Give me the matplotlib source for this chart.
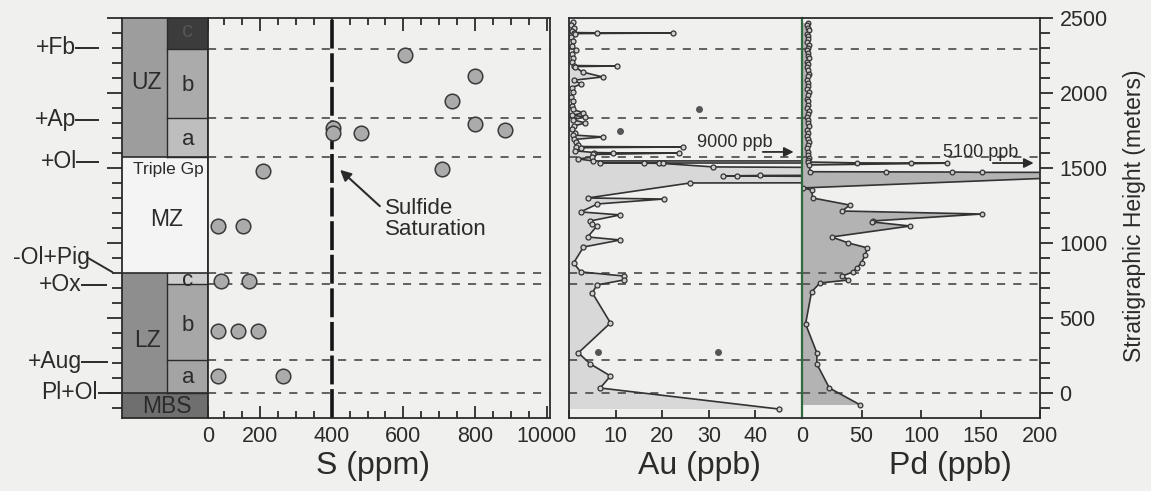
import matplotlib
matplotlib.use('Agg')
import matplotlib.pyplot as plt
import matplotlib.transforms as mtransforms
from matplotlib.ticker import MultipleLocator, FixedLocator, FixedFormatter, NullFormatter

plt.rcParams['font.family'] = ['Liberation Sans', 'DejaVu Sans']

# ---------------- data ----------------
height_limits = (-167, 2500)
boundary_heights = [2290, 1835, 1570, 800, 725, 220, 0]

zone_labels = ['UZ', 'MZ', 'LZ', 'MBS']
zone_bottoms = [1570, 800, 0, -167]
zone_tops = [2500, 1570, 800, 0]
subzone_labels = ['c', 'b', 'a', 'c', 'b', 'a']
subzone_bottoms = [2290, 1835, 1570, 725, 220, 0]
subzone_tops = [2500, 2290, 1835, 800, 725, 220]

marker_labels = ['+Fb', '+Ap', '+Ol', '-Ol+Pig', '+Ox', '+Aug', 'Pl+Ol']
marker_heights = [2300, 1820, 1540, 900, 720, 207, 0]

s_ppm = [604, 800, 735, 404, 404, 482, 800, 883, 209, 707, 84, 153, 92, 170, 84, 139, 195, 84, 265]
s_height = [2253, 2113, 1947, 1767, 1733, 1733, 1793, 1753, 1480, 1493, 1113, 1113, 747, 747, 413, 413, 413, 113, 113]
sulfide_saturation_ppm = 400
s_ticks = [0, 200, 400, 600, 800, 1000]

au_height = [2473, 2455, 2435, 2415, 2403, 2401, 2400, 2396, 2370, 2345, 2315, 2287, 2260,
             2235, 2205, 2183, 2180, 2176, 2140, 2107, 2085, 2060, 2035, 2005, 1975, 1945,
             1915, 1890, 1867, 1852, 1840, 1822, 1800, 1780, 1760, 1735, 1720, 1707, 1690,
             1670, 1652, 1643, 1640, 1635, 1615, 1603, 1601, 1600, 1590, 1573, 1560, 1547,
             1540, 1533, 1532, 1531, 1530, 1507, 1490, 1460, 1450, 1448, 1447, 1430, 1405,
             1400, 1300, 1293, 1260, 1207, 1187, 1147, 1127, 1113, 1040, 1020, 973, 867,
             807, 780, 753, 720, 667, 467, 267, 193, 113, 33, -107]
au_ppb = [0.8, 0.5, 1.0, 0.6, 1.0, 6.0, 22.4, 1.2, 0.5, 0.8, 0.6, 1.5, 0.7,
          0.9, 0.6, 1.0, 10.2, 1.2, 2.9, 7.2, 1.0, 2.6, 0.6, 0.9, 0.5, 0.8,
          0.6, 0.9, 3.1, 0.7, 3.5, 0.8, 3.5, 1.0, 0.6, 1.2, 0.8, 7.4, 1.0,
          1.4, 2.0, 1.5, 24.5, 2.6, 1.2, 5.3, 9.5, 23.5, 5.2, 5.0, 2.0, 5.2,
          9000, 6.7, 16, 19.3, 20.2, 31, 150, 150, 41, 36, 33, 150, 150,
          26, 4, 20.3, 6.1, 2.5, 11, 4.6, 5, 6, 4, 11, 3.1, 1,
          2.5, 11.7, 11.7, 6, 5, 8.9, 2, 4.6, 8.9, 6.7, 45]
au_dot_ppb = [28, 11, 6.3, 32]
au_dot_height = [1893, 1747, 273, 273]
au_ticks = [0, 10, 20, 30, 40]

pd_height = [2467, 2452, 2431, 2418, 2396, 2380, 2361, 2340, 2322, 2300, 2287, 2266,
             2249, 2230, 2208, 2190, 2171, 2150, 2128, 2110, 2087, 2069, 2046, 2025,
             2008, 1985, 1962, 1944, 1921, 1903, 1880, 1862, 1840, 1818, 1797, 1779,
             1756, 1735, 1716, 1694, 1672, 1651, 1630, 1608, 1589, 1567, 1553,
             1540, 1534, 1533, 1532, 1520, 1475, 1474, 1473, 1471, 1455, 1436, 1367,
             1353, 1300, 1253, 1213, 1193, 1147, 1140, 1113, 1040, 1000, 967, 920,
             867, 833, 807, 780, 753, 733, 673, 460, 267, 193, 33, -80]
pd_ppb = [5, 4, 5, 6, 4, 5, 5, 4, 6, 5, 4, 5,
          5, 6, 4, 5, 4, 5, 6, 5, 4, 5, 5, 4,
          6, 5, 4, 5, 5, 4, 6, 5, 4, 5, 5, 6,
          4, 5, 4, 5, 6, 5, 4, 5, 5, 6, 5,
          5, 46, 92, 122, 6, 7, 71, 126, 151, 5100, 220, 1,
          8, 9, 40, 34, 151, 60, 59, 91, 25, 39, 55, 53,
          50, 46, 43, 34, 39, 15, 8, 3, 12.5, 12.5, 23, 49]
pd_ticks = [0, 50, 100, 150, 200]
height_ticks = [0, 500, 1000, 1500, 2000, 2500]

# ---------------- style / layout ----------------
W, H = 1151, 491
BG = '#f0f0ee'
INK = '#2b2b2b'
FS_TICK = 15.5
FS_LAB = 23

fig = plt.figure(figsize=(W / 100, H / 100), dpi=100, facecolor=BG)


def rect(x0, x1, y0=18, y1=418):
    return [x0 / W, 1 - y1 / H, (x1 - x0) / W, (y1 - y0) / H]


ax_col = fig.add_axes(rect(122, 208))
ax_s = fig.add_axes(rect(208, 550))
ax_au = fig.add_axes(rect(569, 802))
ax_pd = fig.add_axes(rect(802, 1040))

for ax in (ax_col, ax_s, ax_au, ax_pd):
    ax.set_facecolor(BG)
    ax.set_ylim(*height_limits)
    for sp in ax.spines.values():
        sp.set_color(INK)
        sp.set_linewidth(1.3)

# ---------- stratigraphic column ----------
ax_col.set_xlim(0, 1)
div = 0.523
zone_colors = ['#9d9d9d', '#f4f4f4', '#8e8e8e', '#6f6f6f']
zone_x1 = [div, 1, div, 1]
for b, t, c, x1 in zip(zone_bottoms, zone_tops, zone_colors, zone_x1):
    ax_col.fill_between([0, x1], b, t, color=c, lw=0)
sub_colors = ['#3c3c3c', '#ababab', '#bebebe', '#cdcdcd', '#a7a7a7', '#a4a4a4']
for b, t, c in zip(subzone_bottoms, subzone_tops, sub_colors):
    ax_col.fill_between([div, 1], b, t, color=c, lw=0)
    ax_col.plot([div, 1], [b, b], color=INK, lw=1)
for b in (1570, 800, 0):
    ax_col.plot([0, 1], [b, b], color=INK, lw=1.2)
ax_col.plot([div, div], [1570, 2500], color=INK, lw=1)
ax_col.plot([div, div], [0, 800], color=INK, lw=1)

zone_label_x = [0.29, 0.52, 0.30, 0.52]
zone_label_y = [2073, 1159, 353, -93]
for lab, x, y in zip(zone_labels, zone_label_x, zone_label_y):
    ax_col.text(x, y, lab, ha='center', va='center', fontsize=16.5, color=INK)
ax_col.text(0.535, 1487, 'Triple Gp', ha='center', va='center', fontsize=12.5, color=INK)
sub_label_y = [2407, 2053, 1687, 747, 453, 100]
sub_label_c = ['#555555', INK, INK, INK, INK, INK]
for lab, y, c in zip(subzone_labels, sub_label_y, sub_label_c):
    ax_col.text(0.767, y, lab, ha='center', va='center', fontsize=16, color=c)

ax_col.set_xticks([])
ax_col.yaxis.set_major_locator(FixedLocator(height_ticks))
ax_col.yaxis.set_minor_locator(MultipleLocator(100))
ax_col.yaxis.set_major_formatter(NullFormatter())
ax_col.tick_params(axis='y', which='major', direction='out', length=11, width=1.3, color=INK)
ax_col.tick_params(axis='y', which='minor', direction='out', length=7, width=1.3, color=INK)

# mineral marker labels
bt = mtransforms.blended_transform_factory(ax_col.transAxes, ax_col.transData)
label_right = [-0.535, -0.535, -0.523, -0.372, -0.465, -0.465, -0.279]
line_x0 = [-0.535, -0.535, -0.523, -0.395, -0.465, -0.465, -0.267]
line_x1 = [-0.28, -0.28, -0.28, -0.116, -0.186, -0.175, 0.0]
line_y1 = [2300, 1820, 1540, 807, 720, 207, 0]
for lab, h, xr, x0, x1, y1 in zip(marker_labels, marker_heights, label_right,
                                   line_x0, line_x1, line_y1):
    ax_col.text(xr, h, lab, transform=bt, ha='right', va='center',
                fontsize=16.5, color=INK, clip_on=False)
    ax_col.plot([x0, x1], [h, y1], transform=bt, color=INK, lw=1.4, clip_on=False)

# ---------- S panel ----------
ax_s.set_xlim(56, 1008)
for h in boundary_heights:
    ax_s.axhline(h, color='#555555', lw=1.3, ls=(0, (4.5, 4.5)))
ax_s.axvline(sulfide_saturation_ppm, color='#151515', lw=2.6, ls=(0, (8, 1.3)))
ax_s.plot(s_ppm, s_height, 'o', ms=10.5, mfc='#ababab', mec='#3a3a3a', mew=1.1, zorder=5)
ax_s.xaxis.set_major_locator(FixedLocator([56] + s_ticks[1:]))
# the last label ("1000") is drawn separately, nudged left to clear the Au "0"
ax_s.xaxis.set_major_formatter(FixedFormatter([str(v) for v in s_ticks[:-1]] + ['']))
ax_s.xaxis.set_minor_locator(FixedLocator([v for v in range(100, 1000, 50) if v % 200]))
ax_s.tick_params(axis='x', which='major', direction='in', length=9, width=1.3,
                 top=True, bottom=True, labelsize=FS_TICK, pad=6, color=INK, labelcolor=INK)
ax_s.tick_params(axis='x', which='minor', direction='in', length=5, width=1.3,
                 top=True, bottom=True, color=INK)
ax_s.tick_params(axis='y', left=False, labelleft=False)
ax_s.annotate(str(s_ticks[-1]), xy=(s_ticks[-1], 0), xycoords=('data', 'axes fraction'),
              xytext=(-5, -6), textcoords='offset points', ha='center', va='top',
              fontsize=FS_TICK, color=INK, annotation_clip=False)
ax_s.text(549, 1160, 'Sulfide\nSaturation', ha='left', va='center', fontsize=16,
          color=INK, linespacing=1.05)
ax_s.annotate('', xy=(418, 1500), xytext=(540, 1233),
              arrowprops=dict(arrowstyle='-|>', lw=1.5, color=INK, mutation_scale=16))

# ---------- Au panel ----------
ax_au.set_xlim(0, 50)
ax_au.fill_betweenx(au_height, 0, au_ppb, color='#d8d8d8', lw=0)
for h in boundary_heights:
    ax_au.axhline(h, color='#555555', lw=1.3, ls=(0, (4.5, 4.5)))
ax_au.plot(au_ppb, au_height, '-o', color='#333333', lw=1.2, ms=3.6,
           mfc='#d0d0d0', mec='#333333', mew=0.9)
ax_au.plot(au_dot_ppb, au_dot_height, 'o', ms=4, color='#555555')
ax_au.set_xticks(au_ticks)
ax_au.tick_params(axis='x', direction='in', length=6, width=1.3, labelsize=FS_TICK,
                  pad=6, color=INK, labelcolor=INK)
ax_au.tick_params(axis='y', left=False, labelleft=False)
ax_au.spines['right'].set_visible(False)
ax_au.text(35.6, 1667, '9000 ppb', ha='center', va='center', fontsize=13, color=INK)
ax_au.annotate('', xy=(48.8, 1607), xytext=(41, 1607),
               arrowprops=dict(arrowstyle='-|>', lw=1.3, color=INK, mutation_scale=14))

# ---------- Pd panel ----------
ax_pd.set_xlim(0, 200)
ax_pd.fill_betweenx(pd_height, 0, pd_ppb, color='#b3b3b3', lw=0)
for h in boundary_heights:
    ax_pd.axhline(h, color='#555555', lw=1.3, ls=(0, (4.5, 4.5)))
ax_pd.plot(pd_ppb, pd_height, '-o', color='#333333', lw=1.2, ms=3.4,
           mfc='#c8c8c8', mec='#333333', mew=0.9)
ax_pd.set_xticks(pd_ticks)
ax_pd.tick_params(axis='x', direction='in', length=6, width=1.3, labelsize=FS_TICK,
                  pad=6, color=INK, labelcolor=INK)
ax_pd.spines['left'].set_color('#2f6b3f')
ax_pd.spines['left'].set_linewidth(1.6)
ax_pd.yaxis.tick_right()
ax_pd.yaxis.set_major_locator(FixedLocator(height_ticks))
ax_pd.yaxis.set_minor_locator(MultipleLocator(100))
ax_pd.tick_params(axis='y', which='major', direction='out', length=9, width=1.3,
                  labelsize=FS_TICK, pad=5, color=INK, labelcolor=INK)
ax_pd.tick_params(axis='y', which='minor', direction='out', length=7, width=1.3, color=INK)
ax_pd.text(150, 1600, '5100 ppb', ha='center', va='center', fontsize=13, color=INK)
ax_pd.annotate('', xy=(197, 1533), xytext=(158, 1533),
               arrowprops=dict(arrowstyle='-|>', lw=1.3, color=INK, mutation_scale=14))

# ---------- axis titles ----------
fig.text(373 / W, 1 - 466 / H, 'S (ppm)', ha='center', va='center', fontsize=FS_LAB, color=INK)
fig.text(699 / W, 1 - 466 / H, 'Au (ppb)', ha='center', va='center', fontsize=FS_LAB, color=INK)
fig.text(950 / W, 1 - 466 / H, 'Pd (ppb)', ha='center', va='center', fontsize=FS_LAB, color=INK)
fig.text(1134 / W, 1 - 216 / H, 'Stratigraphic Height (meters)', ha='center', va='center',
         rotation=90, fontsize=16.5, color=INK)

fig.savefig('out.png', dpi=100, facecolor=BG)
